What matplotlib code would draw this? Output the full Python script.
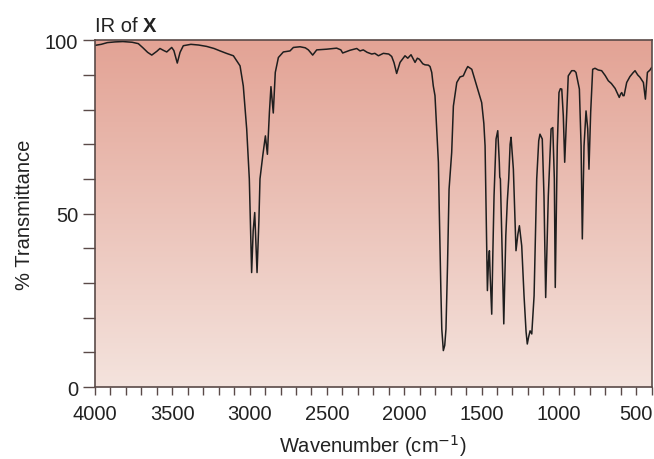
import numpy as np
import matplotlib
matplotlib.use("Agg")
import matplotlib.pyplot as plt
from matplotlib.colors import LinearSegmentedColormap
from matplotlib.ticker import MultipleLocator

plt.rcParams["font.family"] = ["Liberation Sans", "DejaVu Sans"]

# IR spectrum of X (wavenumber in cm-1, % transmittance)
wavenumber = [
    4000, 3960, 3920, 3870, 3820, 3760, 3720, 3690, 3660, 3633, 3600, 3580,
    3555, 3536, 3504, 3490, 3468, 3450, 3429, 3380, 3330, 3278, 3230, 3191,
    3150, 3105, 3062, 3041, 3019, 3002, 2987, 2977, 2967, 2960, 2952, 2940,
    2933, 2915, 2898, 2885, 2872, 2862, 2847, 2834, 2814, 2782, 2739, 2717,
    2674, 2640, 2620, 2592, 2566, 2501, 2437, 2410, 2398, 2350, 2307, 2286,
    2265, 2240, 2210, 2190, 2167, 2135, 2100, 2081, 2066, 2049, 2027, 1995,
    1977, 1956, 1930, 1915, 1902, 1880, 1866, 1844, 1833, 1822, 1812, 1801,
    1790, 1779, 1773, 1763, 1757, 1747, 1738, 1730, 1720, 1710, 1693, 1682,
    1660, 1639, 1618, 1600, 1589, 1563, 1531, 1499, 1485, 1477, 1470, 1462,
    1455, 1449, 1444, 1434, 1427, 1419, 1406, 1395, 1385, 1382, 1378, 1369,
    1356, 1343, 1333, 1324, 1315, 1309, 1294, 1277, 1265, 1255, 1240, 1225,
    1212, 1204, 1195, 1186, 1175, 1160, 1143, 1130, 1122, 1107, 1096, 1085,
    1068, 1050, 1039, 1029, 1023, 1010, 999, 990, 981, 971, 962, 949,
    939, 917, 900, 889, 867, 856, 848, 837, 824, 813, 805, 794,
    781, 766, 745, 723, 700, 680, 660, 636, 609, 600, 593, 585,
    578, 561, 540, 520, 507, 490, 475, 453, 440, 427, 410, 400,
]
transmittance = [
    98.5, 98.8, 99.3, 99.5, 99.6, 99.4, 99.0, 97.8, 96.5, 95.7, 96.8, 97.6,
    97.0, 96.6, 97.9, 97.0, 93.4, 96.5, 98.4, 98.8, 98.6, 98.2, 97.6, 96.9,
    96.2, 95.5, 92.6, 86.8, 74.4, 60.0, 33.0, 45.0, 50.3, 42.0, 33.0, 48.0,
    60.0, 66.7, 72.4, 67.1, 79.2, 86.6, 79.0, 90.7, 95.0, 96.6, 96.9, 97.9,
    98.1, 97.8, 97.2, 95.7, 97.2, 97.4, 97.7, 97.2, 96.3, 97.1, 97.6, 96.9,
    97.2, 96.5, 96.0, 96.2, 95.5, 96.2, 96.0, 95.3, 93.5, 90.4, 93.6, 95.5,
    94.8, 95.8, 93.6, 94.8, 94.5, 93.2, 92.9, 92.8, 92.4, 90.7, 86.8, 84.0,
    74.4, 64.8, 50.3, 28.0, 16.7, 10.5, 12.0, 16.7, 35.0, 57.0, 67.6, 81.0,
    87.8, 89.4, 89.7, 91.5, 92.4, 91.6, 86.8, 82.0, 76.0, 69.5, 50.0, 27.8,
    36.0, 39.3, 32.0, 21.0, 38.0, 55.1, 71.5, 73.9, 64.8, 60.5, 60.0, 43.6,
    18.2, 43.6, 53.7, 60.0, 70.0, 72.0, 62.8, 39.3, 44.0, 46.5, 40.7, 26.3,
    16.0, 12.4, 14.5, 16.2, 15.3, 26.3, 60.0, 71.0, 72.9, 71.5, 55.1, 25.8,
    55.1, 74.4, 74.8, 60.0, 28.7, 69.5, 84.9, 86.0, 85.9, 78.2, 64.8, 79.2,
    89.7, 91.2, 91.2, 90.7, 85.9, 69.5, 42.7, 69.5, 79.6, 74.4, 62.8, 79.2,
    91.6, 91.9, 91.4, 91.2, 89.8, 88.3, 87.5, 86.1, 83.5, 84.5, 84.9, 84.0,
    84.0, 87.8, 89.5, 90.6, 91.2, 90.0, 89.3, 87.8, 83.0, 90.7, 91.4, 92.1,
]

x_ticks = [4000, 3500, 3000, 2500, 2000, 1500, 1000, 500]
y_ticks = [0, 50, 100]

fig = plt.figure(figsize=(6.54, 4.6), dpi=100)
ax = fig.add_axes([0.1453, 0.1565, 0.851, 0.754])

# salmon-to-pale gradient behind the trace
grad = LinearSegmentedColormap.from_list("bg", ["#f4e3dd", "#e3a395"])
ax.imshow(np.linspace(0, 1, 256).reshape(-1, 1), cmap=grad, origin="lower",
          extent=[0, 1, 0, 1], transform=ax.transAxes, aspect="auto", zorder=0)

ax.plot(wavenumber, transmittance, color="#1e1e1e", lw=1.1, zorder=2)

ax.set_xlim(4000, 400)
ax.set_ylim(0, 100)
ax.set_xticks(x_ticks)
ax.set_yticks(y_ticks)
ax.xaxis.set_minor_locator(MultipleLocator(100))
ax.yaxis.set_minor_locator(MultipleLocator(10))

spine_col = "#5a4a48"
for s in ax.spines.values():
    s.set_color(spine_col)
    s.set_linewidth(1.2)

ax.tick_params(axis="x", which="both", direction="out", length=6, width=1,
               color=spine_col, labelsize=14.5, pad=6, labelcolor="#222222")
ax.tick_params(axis="y", which="both", direction="out", length=9, width=1,
               color=spine_col, labelsize=14.5, pad=3, labelcolor="#222222")

ax.set_xlabel("Wavenumber (cm$^{-1}$)", fontsize=14.5, color="#222222", labelpad=6.5)
ax.set_ylabel("% Transmittance", fontsize=14.5, color="#222222", labelpad=8)

t = ax.text(0.0, 1.015, "IR of ", transform=ax.transAxes, fontsize=14.5,
            color="#222222", ha="left", va="bottom")
ax.annotate("X", xy=(1, 0), xycoords=t, fontsize=14.5, fontweight="bold",
            color="#222222", ha="left", va="bottom")

fig.savefig("out.png", dpi=100)
